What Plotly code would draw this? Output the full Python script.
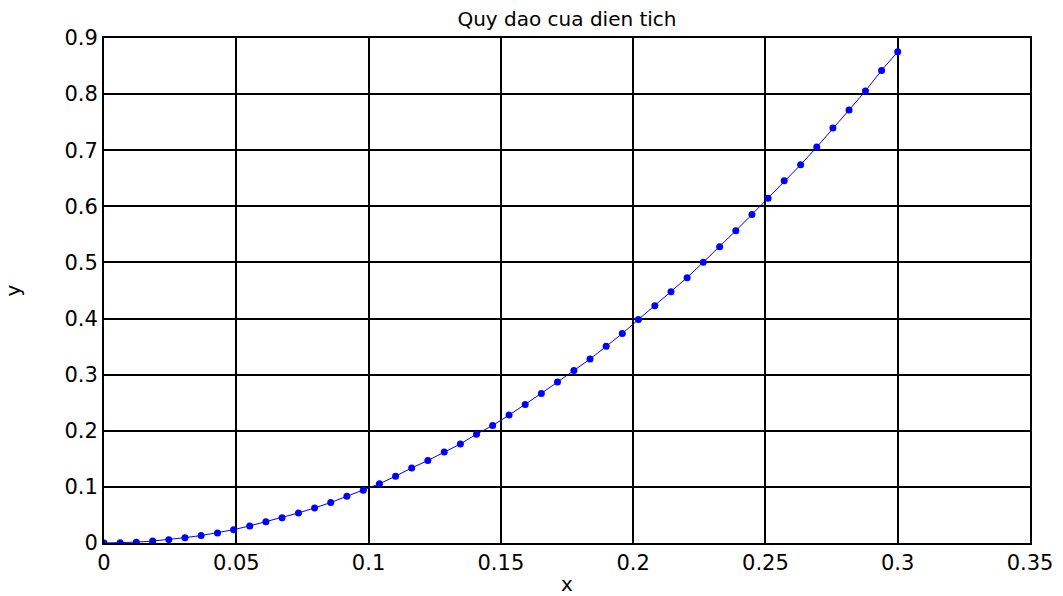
import plotly.graph_objects as go

# x positions of the samples (50 evenly spaced points from 0 to 0.3)
x_vals = [0.0000, 0.0061, 0.0122, 0.0184, 0.0245, 0.0306, 0.0367, 0.0429, 0.0490, 0.0551,
          0.0612, 0.0673, 0.0735, 0.0796, 0.0857, 0.0918, 0.0980, 0.1041, 0.1102, 0.1163,
          0.1224, 0.1286, 0.1347, 0.1408, 0.1469, 0.1531, 0.1592, 0.1653, 0.1714, 0.1776,
          0.1837, 0.1898, 0.1959, 0.2020, 0.2082, 0.2143, 0.2204, 0.2265, 0.2327, 0.2388,
          0.2449, 0.2510, 0.2571, 0.2633, 0.2694, 0.2755, 0.2816, 0.2878, 0.2939, 0.3000]

y_vals = [0.0000, 0.0005, 0.0015, 0.0035, 0.0060, 0.0095, 0.0133, 0.0180, 0.0237, 0.0305,
          0.0380, 0.0450, 0.0535, 0.0625, 0.0721, 0.0833, 0.0942, 0.1055, 0.1190, 0.1338,
          0.1470, 0.1624, 0.1765, 0.1940, 0.2095, 0.2279, 0.2470, 0.2666, 0.2868, 0.3076,
          0.3278, 0.3505, 0.3733, 0.3983, 0.4229, 0.4479, 0.4729, 0.5004, 0.5280, 0.5565,
          0.5855, 0.6146, 0.6454, 0.6740, 0.7056, 0.7395, 0.7716, 0.8055, 0.8423, 0.8756]

title_text = "Quy dao cua dien tich"
x_label = "x"
y_label = "y"

FONT = "DejaVu Sans, Arial, sans-serif"

fig = go.Figure()
fig.add_trace(go.Scatter(
    x=x_vals, y=y_vals, mode="lines+markers",
    line=dict(color="rgb(0,0,255)", width=1),
    marker=dict(color="rgb(0,0,255)", size=7),
    showlegend=False,
))

axis_common = dict(
    showgrid=True, gridcolor="black", gridwidth=2,
    zeroline=False, showline=True, mirror=True,
    linecolor="black", linewidth=2,
    ticks="inside", ticklen=8, tickcolor="black", tickwidth=1,
    tickfont=dict(family=FONT, size=21, color="black"),
    automargin=False,
)

fig.update_layout(
    width=1063, height=596,
    margin=dict(l=104, r=33, t=38, b=53),
    paper_bgcolor="white", plot_bgcolor="white",
    title=dict(text=title_text, x=0.5, xref="paper", xanchor="center",
               y=1 - 19 / 596, yref="container", yanchor="middle",
               font=dict(family=FONT, size=20, color="black")),
    xaxis=dict(range=[0, 0.35], dtick=0.05, tick0=0,
               title=dict(text=x_label, standoff=5,
                          font=dict(family=FONT, size=20, color="black")),
               **axis_common),
    yaxis=dict(range=[0, 0.9], dtick=0.1, tick0=0,
               title=dict(text=y_label, standoff=38,
                          font=dict(family=FONT, size=20, color="black")),
               **axis_common),
)

fig.write_html("out.html")
